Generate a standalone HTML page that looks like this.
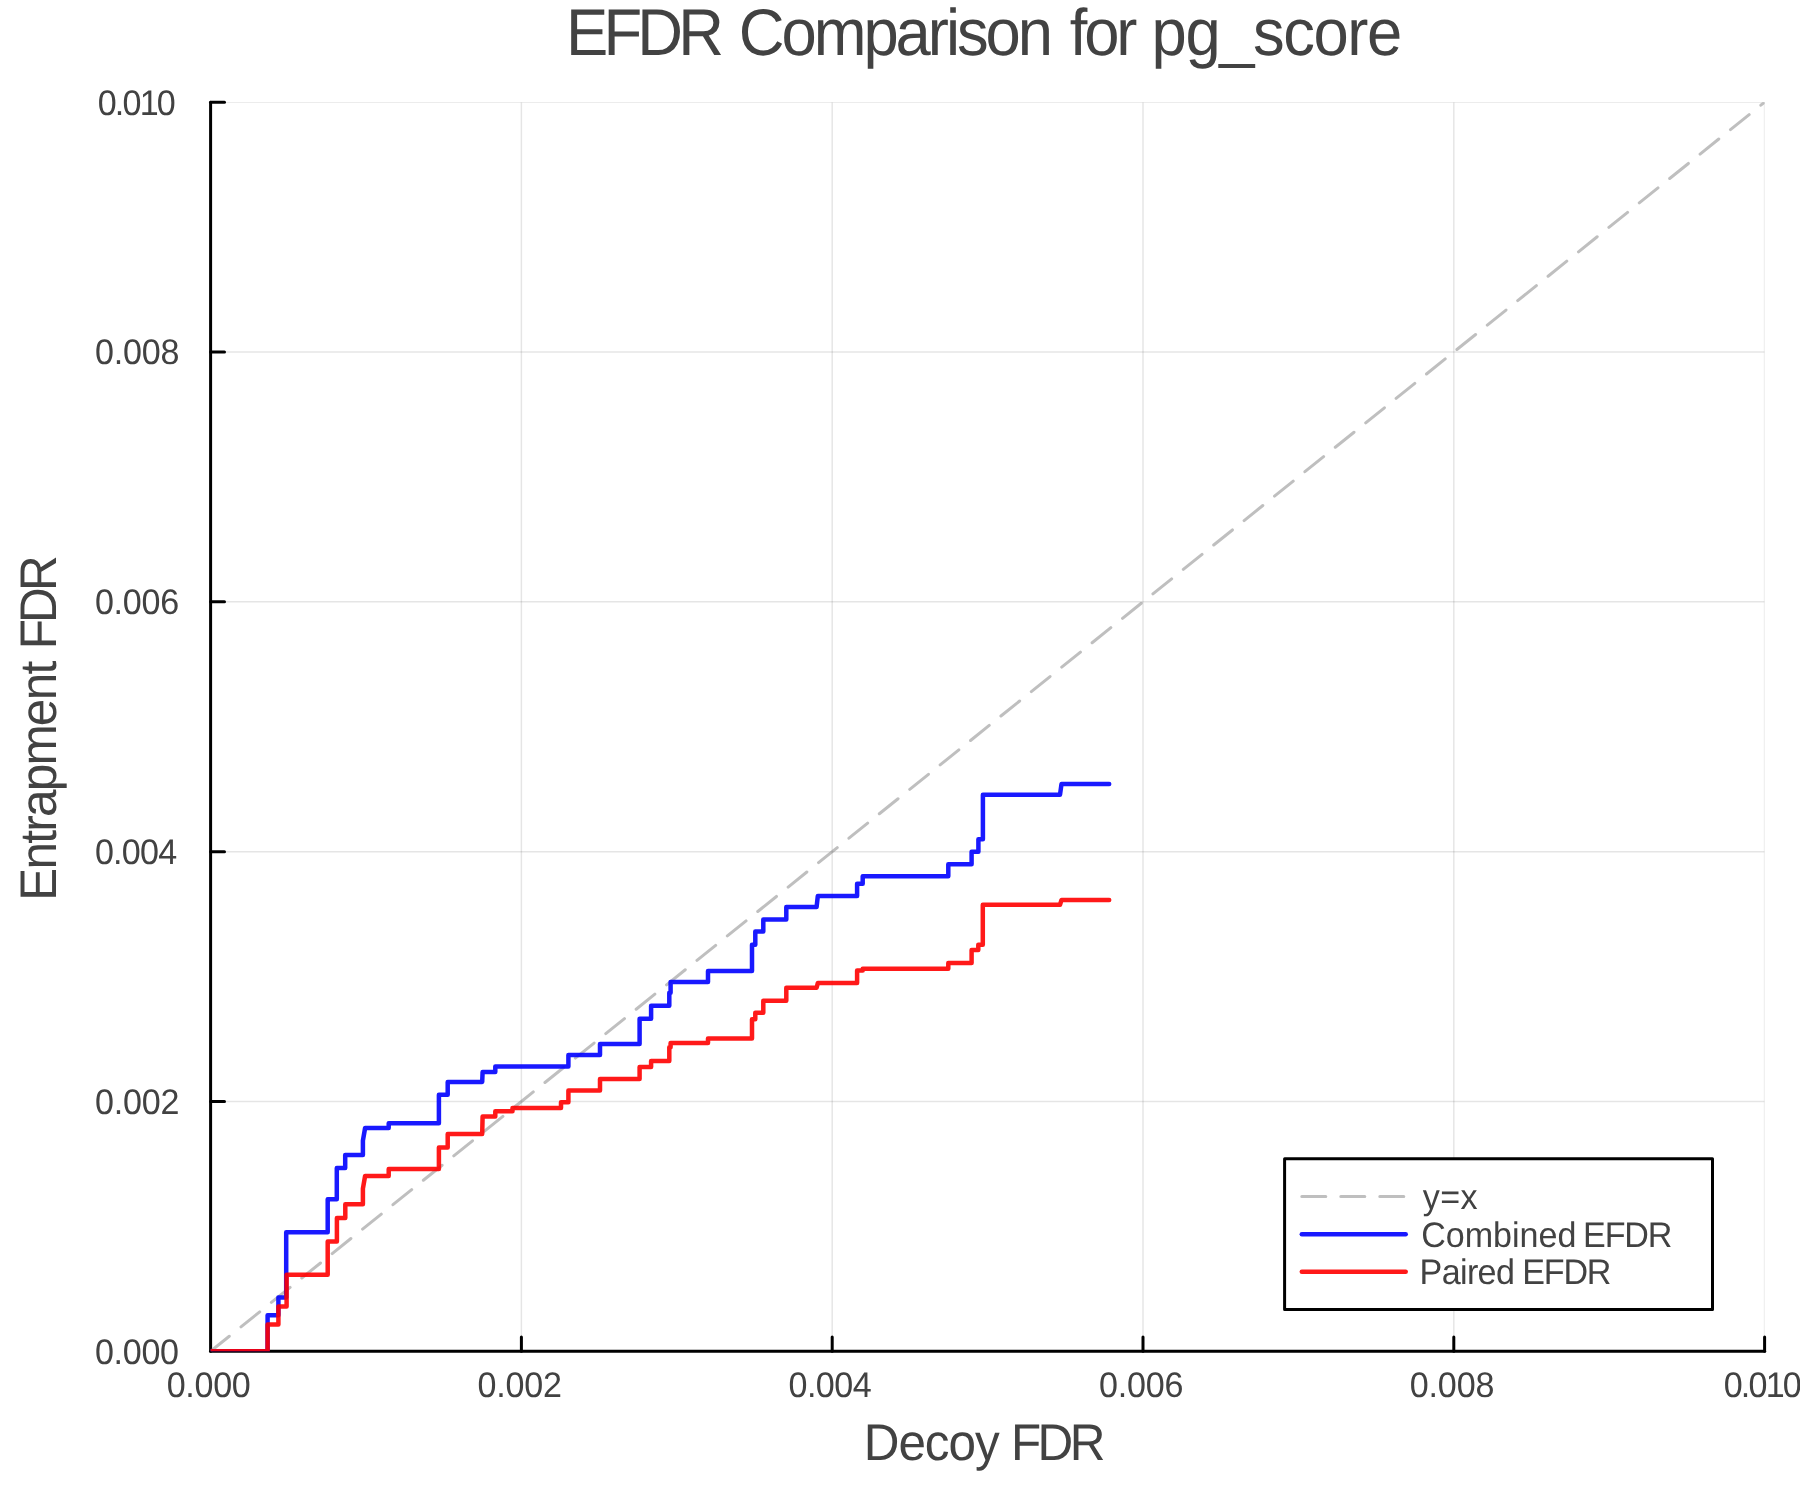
<!DOCTYPE html>
<html><head><meta charset="utf-8"><title>EFDR Comparison for pg_score</title>
<style>
html,body{margin:0;padding:0;background:#fff;}
body{width:1800px;height:1500px;overflow:hidden;}
svg{display:block;}
text{font-family:"Liberation Sans",sans-serif;fill:#424242;text-rendering:geometricPrecision;}
</style></head><body>
<svg width="1800" height="1500" viewBox="0 0 1800 1500">
<rect x="0" y="0" width="1800" height="1500" fill="#ffffff"/>
<defs><clipPath id="pa"><rect x="210.6" y="102.2" width="1554.00" height="1249.10"/></clipPath></defs>
<g stroke="#000" stroke-opacity="0.1" stroke-width="1.5" fill="none" clip-path="url(#pa)">
<line x1="521.40" y1="102.2" x2="521.40" y2="1351.3"/>
<line x1="832.20" y1="102.2" x2="832.20" y2="1351.3"/>
<line x1="1143.00" y1="102.2" x2="1143.00" y2="1351.3"/>
<line x1="1453.80" y1="102.2" x2="1453.80" y2="1351.3"/>
<line x1="1764.60" y1="102.2" x2="1764.60" y2="1351.3"/>
<line x1="210.6" y1="1101.48" x2="1764.6" y2="1101.48"/>
<line x1="210.6" y1="851.66" x2="1764.6" y2="851.66"/>
<line x1="210.6" y1="601.84" x2="1764.6" y2="601.84"/>
<line x1="210.6" y1="352.02" x2="1764.6" y2="352.02"/>
<line x1="210.6" y1="102.20" x2="1764.6" y2="102.20"/>
</g>
<g stroke="#000" stroke-width="3" fill="none" stroke-linecap="round">
<line x1="210.6" y1="1351.3" x2="1764.6" y2="1351.3"/>
<line x1="210.6" y1="1351.3" x2="210.6" y2="102.2"/>
<line x1="521.40" y1="1351.3" x2="521.40" y2="1336.90"/>
<line x1="832.20" y1="1351.3" x2="832.20" y2="1336.90"/>
<line x1="1143.00" y1="1351.3" x2="1143.00" y2="1336.90"/>
<line x1="1453.80" y1="1351.3" x2="1453.80" y2="1336.90"/>
<line x1="1764.60" y1="1351.3" x2="1764.60" y2="1336.90"/>
<line x1="210.6" y1="1101.48" x2="224.50" y2="1101.48"/>
<line x1="210.6" y1="851.66" x2="224.50" y2="851.66"/>
<line x1="210.6" y1="601.84" x2="224.50" y2="601.84"/>
<line x1="210.6" y1="352.02" x2="224.50" y2="352.02"/>
<line x1="210.6" y1="102.20" x2="224.50" y2="102.20"/>
</g>
<g fill="none" stroke-linejoin="round" stroke-linecap="round" clip-path="url(#pa)">
<line x1="210.6" y1="1351.3" x2="1764.6" y2="102.2" stroke="#808080" stroke-opacity="0.5" stroke-width="3" stroke-dasharray="24 15"/>
<polyline points="205,1351.3 267.6,1351.3 267.6,1315.3 278.4,1315.3 278.4,1297.6 286.2,1297.6 286.2,1232.3 327.7,1232.3 327.7,1199.2 336.8,1199.2 336.8,1168 345.2,1168 345.2,1155.1 362.9,1155.1 362.9,1140.7 365.1,1128 388.7,1128 388.7,1123.3 438.9,1123.3 438.9,1094.7 447.7,1094.7 447.7,1082 482.2,1082 482.6,1072 495.3,1072 495.3,1066.4 568.4,1066.4 568.4,1055.1 600,1055.1 600,1044 639.6,1044 639.6,1018.7 651.1,1018.7 651.1,1005.7 669.3,1005.7 669.3,992.7 670.6,992.7 670.6,982 708,982 708,971 752,971 752,944.7 755.3,944.7 755.3,931.6 763.3,931.6 763.3,919.6 786.3,919.6 786.3,907.1 816.6,907.1 817.8,896 857.1,896 857.1,883.7 862.7,883.7 862.7,876.2 948.3,876.2 948.3,864.2 971.6,864.2 971.6,851.7 978.4,851.7 978.4,839.3 982.9,839.3 982.9,794.7 1060,794.7 1061.5,784 1109.2,784" stroke="#0000ff" stroke-opacity="0.9" stroke-width="4.5"/>
<polyline points="205,1351.3 267.6,1351.3 267.6,1324.4 278.4,1324.4 278.4,1306.4 286.6,1306.4 286.6,1274.7 327.7,1274.7 327.7,1241.6 336.9,1241.6 336.9,1218 345.3,1218 345.3,1204.3 362.9,1204.3 362.9,1188.7 365.1,1176 388.7,1176 388.7,1169.1 438.9,1169.1 438.9,1147.6 447.7,1147.6 447.7,1134 482.2,1134 482.6,1116.5 495.3,1116.5 495.3,1111.2 512.5,1111.2 512.5,1108 561,1108 561,1102.3 568.4,1102.3 568.4,1090.4 600,1090.4 600,1079 639.6,1079 639.6,1067 651.1,1067 651.1,1061 669.3,1061 669.3,1047.3 670.6,1047.3 670.6,1043 708,1043 708,1038.6 752,1038.6 752,1019.3 755.3,1019.3 755.3,1012.7 763.3,1012.7 763.3,1000.7 786.3,1000.7 786.3,987.7 816.6,987.7 817.8,983.1 857.1,983.1 857.1,970.4 862.7,970.4 862.7,968.7 948.3,968.7 948.3,962.9 971.6,962.9 971.6,950 978.3,950 978.3,944.7 982.8,944.7 982.8,904.7 1060,904.7 1061.5,900 1109.2,900" stroke="#ff0000" stroke-opacity="0.9" stroke-width="4.5"/>
</g>
<rect x="1284.6" y="1158.8" width="427.9" height="150.6" fill="#fff" stroke="#000" stroke-width="3" stroke-linejoin="round"/>
<g fill="none" stroke-linecap="round">
<line x1="1301.8" y1="1196.4" x2="1405.7" y2="1196.4" stroke="#808080" stroke-opacity="0.5" stroke-width="3" stroke-dasharray="24 15"/>
<line x1="1301.8" y1="1234.2" x2="1405.7" y2="1234.2" stroke="#0000ff" stroke-opacity="0.9" stroke-width="4.5"/>
<line x1="1301.8" y1="1271.8" x2="1405.7" y2="1271.8" stroke="#ff0000" stroke-opacity="0.9" stroke-width="4.5"/>
</g>
<g style="will-change:transform">
<text id="title0" transform="translate(566.05,55.00) scale(0.96,1)" font-size="66" textLength="164.62" lengthAdjust="spacing">EFDR</text>
<text id="title1" transform="translate(738.78,55.00) scale(0.96,1)" font-size="66" textLength="327.32" lengthAdjust="spacing">Comparison</text>
<text id="title2" transform="translate(1069.87,55.00) scale(0.96,1)" font-size="66" textLength="70.20" lengthAdjust="spacing">for</text>
<text id="title3" transform="translate(1151.57,55.00) scale(0.96,1)" font-size="66" textLength="261.13" lengthAdjust="spacing">pg_score</text>
<text id="xlab0" transform="translate(863.77,1460.00) scale(0.96,1)" font-size="51.5" textLength="141.49" lengthAdjust="spacing">Decoy</text>
<text id="xlab1" transform="translate(1010.98,1460.00) scale(0.96,1)" font-size="51.5" textLength="98.33" lengthAdjust="spacing">FDR</text>
<text id="ylab0" transform="translate(56.00,900.73) rotate(-90) scale(0.96,1)" font-size="51.5" textLength="249.85" lengthAdjust="spacing">Entrapment</text>
<text id="ylab1" transform="translate(56.00,649.31) rotate(-90) scale(0.96,1)" font-size="51.5" textLength="97.94" lengthAdjust="spacing">FDR</text>
<text id="xt0" transform="translate(166.71,1397.00) scale(0.96,1)" font-size="35.5" textLength="87.58" lengthAdjust="spacing">0.000</text>
<text id="xt1" transform="translate(477.53,1397.00) scale(0.96,1)" font-size="35.5" textLength="88.03" lengthAdjust="spacing">0.002</text>
<text id="xt2" transform="translate(788.49,1397.00) scale(0.96,1)" font-size="35.5" textLength="86.66" lengthAdjust="spacing">0.004</text>
<text id="xt3" transform="translate(1099.11,1397.00) scale(0.96,1)" font-size="35.5" textLength="87.85" lengthAdjust="spacing">0.006</text>
<text id="xt4" transform="translate(1409.85,1397.00) scale(0.96,1)" font-size="35.5" textLength="88.03" lengthAdjust="spacing">0.008</text>
<text id="xt5" transform="translate(1723.71,1397.00) scale(0.96,1)" font-size="35.5" textLength="81.33" lengthAdjust="spacing">0.010</text>
<text id="yt0" transform="translate(94.90,1364.00) scale(0.96,1)" font-size="35.5" textLength="87.63" lengthAdjust="spacing">0.000</text>
<text id="yt1" transform="translate(94.90,1114.00) scale(0.96,1)" font-size="35.5" textLength="88.06" lengthAdjust="spacing">0.002</text>
<text id="yt2" transform="translate(94.90,864.00) scale(0.96,1)" font-size="35.5" textLength="85.71" lengthAdjust="spacing">0.004</text>
<text id="yt3" transform="translate(94.90,614.00) scale(0.96,1)" font-size="35.5" textLength="87.87" lengthAdjust="spacing">0.006</text>
<text id="yt4" transform="translate(94.90,364.00) scale(0.96,1)" font-size="35.5" textLength="87.97" lengthAdjust="spacing">0.008</text>
<text id="yt5" transform="translate(97.71,115.00) scale(0.96,1)" font-size="35.5" textLength="81.33" lengthAdjust="spacing">0.010</text>
<text id="lg1" transform="translate(1422.64,1209.00) scale(0.96,1)" font-size="35.5" textLength="57.23" lengthAdjust="spacing">y=x</text>
<text id="lg20" transform="translate(1421.13,1247.00) scale(0.96,1)" font-size="35.5" textLength="161.71" lengthAdjust="spacing">Combined</text>
<text id="lg21" transform="translate(1583.05,1247.00) scale(0.96,1)" font-size="35.5" textLength="93.07" lengthAdjust="spacing">EFDR</text>
<text id="lg30" transform="translate(1419.58,1284.00) scale(0.96,1)" font-size="35.5" textLength="99.25" lengthAdjust="spacing">Paired</text>
<text id="lg31" transform="translate(1522.33,1284.00) scale(0.96,1)" font-size="35.5" textLength="92.76" lengthAdjust="spacing">EFDR</text>
</g>
</svg>
</body></html>
